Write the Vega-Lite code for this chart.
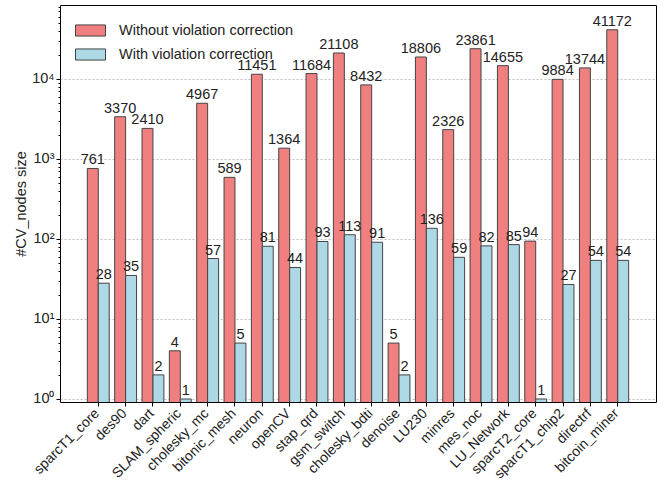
{
  "$schema": "https://vega.github.io/schema/vega-lite/v6.json",
  "autosize": {"type": "none"},
  "padding": {"left": 60, "top": 5, "right": 9, "bottom": 78},
  "width": 596,
  "height": 397,
  "config": {
    "font": "Liberation Sans",
    "view": {"stroke": "black", "strokeWidth": 1},
    "axis": {"labelFont": "Liberation Sans", "titleFont": "Liberation Sans", "labelColor": "#222", "titleColor": "#222", "domainColor": "black", "tickColor": "black", "titleFontWeight": "normal"}
  },
  "data": {"values": [
    {"name": "sparcT1_core", "series": "Without violation correction", "value": 761},
    {"name": "sparcT1_core", "series": "With violation correction", "value": 28},
    {"name": "des90", "series": "Without violation correction", "value": 3370},
    {"name": "des90", "series": "With violation correction", "value": 35},
    {"name": "dart", "series": "Without violation correction", "value": 2410},
    {"name": "dart", "series": "With violation correction", "value": 2},
    {"name": "SLAM_spheric", "series": "Without violation correction", "value": 4},
    {"name": "SLAM_spheric", "series": "With violation correction", "value": 1},
    {"name": "cholesky_mc", "series": "Without violation correction", "value": 4967},
    {"name": "cholesky_mc", "series": "With violation correction", "value": 57},
    {"name": "bitonic_mesh", "series": "Without violation correction", "value": 589},
    {"name": "bitonic_mesh", "series": "With violation correction", "value": 5},
    {"name": "neuron", "series": "Without violation correction", "value": 11451},
    {"name": "neuron", "series": "With violation correction", "value": 81},
    {"name": "openCV", "series": "Without violation correction", "value": 1364},
    {"name": "openCV", "series": "With violation correction", "value": 44},
    {"name": "stap_qrd", "series": "Without violation correction", "value": 11684},
    {"name": "stap_qrd", "series": "With violation correction", "value": 93},
    {"name": "gsm_switch", "series": "Without violation correction", "value": 21108},
    {"name": "gsm_switch", "series": "With violation correction", "value": 113},
    {"name": "cholesky_bdti", "series": "Without violation correction", "value": 8432},
    {"name": "cholesky_bdti", "series": "With violation correction", "value": 91},
    {"name": "denoise", "series": "Without violation correction", "value": 5},
    {"name": "denoise", "series": "With violation correction", "value": 2},
    {"name": "LU230", "series": "Without violation correction", "value": 18806},
    {"name": "LU230", "series": "With violation correction", "value": 136},
    {"name": "minres", "series": "Without violation correction", "value": 2326},
    {"name": "minres", "series": "With violation correction", "value": 59},
    {"name": "mes_noc", "series": "Without violation correction", "value": 23861},
    {"name": "mes_noc", "series": "With violation correction", "value": 82},
    {"name": "LU_Network", "series": "Without violation correction", "value": 14655},
    {"name": "LU_Network", "series": "With violation correction", "value": 85},
    {"name": "sparcT2_core", "series": "Without violation correction", "value": 94},
    {"name": "sparcT2_core", "series": "With violation correction", "value": 1},
    {"name": "sparcT1_chip2", "series": "Without violation correction", "value": 9884},
    {"name": "sparcT1_chip2", "series": "With violation correction", "value": 27},
    {"name": "directrf", "series": "Without violation correction", "value": 13744},
    {"name": "directrf", "series": "With violation correction", "value": 54},
    {"name": "bitcoin_miner", "series": "Without violation correction", "value": 41172},
    {"name": "bitcoin_miner", "series": "With violation correction", "value": 54}
  ]},
  "encoding": {
    "x": {
      "field": "name", "type": "nominal", "sort": null,
      "scale": {"paddingInner": 0.2, "paddingOuter": 1.03},
      "axis": {"title": null, "labelAngle": -45, "labelAlign": "right", "labelBaseline": "top", "labelFontSize": 14, "tickSize": 4, "labelPadding": 0, "labelOffset": -6, "labelLimit": 0, "grid": false, "domain": false}
    },
    "xOffset": {"field": "series", "type": "nominal", "sort": ["Without violation correction", "With violation correction"], "scale": {"paddingInner": 0, "paddingOuter": 0}},
    "y": {
      "field": "value", "type": "quantitative",
      "scale": {"type": "log", "domain": [0.917, 84000], "nice": false, "zero": false},
      "axis": {
        "title": "#CV_nodes size", "titleFontSize": 14.5, "titlePadding": 3,
        "values": [1,2,3,4,5,6,7,8,9,10,20,30,40,50,60,70,80,90,100,200,300,400,500,600,700,800,900,1000,2000,3000,4000,5000,6000,7000,8000,9000,10000,20000,30000,40000,50000,60000,70000,80000],
        "labelExpr": "indexof([1,10,100,1000,10000], datum.value) >= 0 ? '10' + ['⁰','¹','²','³','⁴'][indexof([1,10,100,1000,10000], datum.value)] : ''",
        "labelFontSize": 14.5, "labelOverlap": false, "labelFlush": false, "labelPadding": 2,
        "tickSize": {"condition": {"test": "indexof([1,10,100,1000,10000], datum.value) >= 0", "value": 4}, "value": 2},
        "grid": true, "gridColor": "#b0b0b0", "gridDash": [2, 2], "gridWidth": 0.8,
        "gridOpacity": {"condition": {"test": "indexof([1,10,100,1000,10000], datum.value) >= 0", "value": 1}, "value": 0},
        "domain": false
      }
    }
  },
  "layer": [
    {
      "mark": {"type": "bar", "clip": true, "stroke": "#444444", "strokeWidth": 1},
      "encoding": {
        "y2": {"datum": 0.5},
        "color": {
          "field": "series", "type": "nominal",
          "scale": {"domain": ["Without violation correction", "With violation correction"], "range": ["#F08080", "#ADD8E6"]},
          "legend": {
            "title": null, "orient": "none", "legendX": 15, "legendY": 10, "padding": 0,
            "symbolType": "M-1,-0.37H1V0.37H-1Z", "symbolSize": 900, "symbolStrokeColor": "#444444", "symbolStrokeWidth": 1, "symbolOpacity": 1,
            "labelFontSize": 14.5, "labelFont": "Liberation Sans", "labelColor": "#222", "labelOffset": 13, "labelLimit": 0, "rowPadding": 0
          }
        }
      }
    },
    {
      "mark": {"type": "text", "baseline": "bottom", "dy": -1, "fontSize": 14.5, "font": "Liberation Sans", "color": "#222"},
      "encoding": {"text": {"field": "value", "type": "quantitative", "format": "d"}}
    }
  ]
}
